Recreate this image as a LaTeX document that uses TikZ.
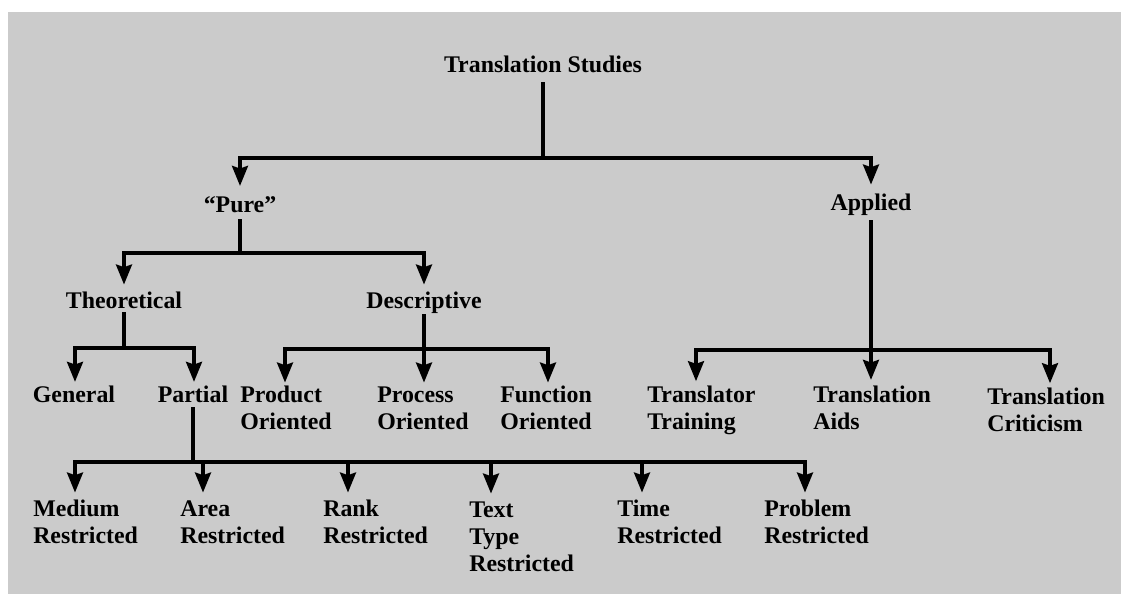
\documentclass[tikz,border=0pt]{standalone}
\usepackage{fontspec}
\setmainfont{Liberation Serif}
\usetikzlibrary{arrows.meta}
\definecolor{paper}{RGB}{203,203,203}
\newcommand{\lbl}[1]{\begin{tabular}[t]{@{}l@{}}#1\end{tabular}}
\begin{document}
\begin{tikzpicture}[x=0.75pt,y=-0.75pt,
  lab/.style={inner sep=0pt, font=\fontsize{17.9}{20.6}\selectfont\bfseries, text=black},
  topl/.style={lab, anchor=base},
  leaf/.style={lab, anchor=base west},
  conn/.style={line width=2.4pt, draw=black, line cap=rect},
  arr/.style={conn, -{Stealth[length=15pt,width=12pt,inset=2pt]}}]
\useasboundingbox (0,0) rectangle (1121,594);
\fill[white] (0,0) rectangle (1121,594);
\fill[paper] (8,12) rectangle (1121,594);

% nodes
\node[topl] (ts) at (543,72) {Translation Studies};
\node[topl] (pure) at (240,212) {``Pure''};
\node[topl] (app) at (871,210) {Applied};
\node[topl] (theo) at (124,308) {Theoretical};
\node[topl] (desc) at (424,308) {Descriptive};
\node[topl] (gen) at (74,402) {General};
\node[topl] (part) at (193,402) {Partial};
\node[leaf] (prod) at (240,402) {\lbl{Product\\Oriented}};
\node[leaf] (proc) at (377,402) {\lbl{Process\\Oriented}};
\node[leaf] (func) at (500,402) {\lbl{Function\\Oriented}};
\node[leaf] (train) at (647,402) {\lbl{Translator\\Training}};
\node[leaf] (aids) at (813,402) {\lbl{Translation\\Aids}};
\node[leaf] (crit) at (987,404) {\lbl{Translation\\Criticism}};
\node[leaf] (med) at (33,516) {\lbl{Medium\\Restricted}};
\node[leaf] (area) at (180,516) {\lbl{Area\\Restricted}};
\node[leaf] (rank) at (323,516) {\lbl{Rank\\Restricted}};
\node[leaf] (text) at (469,517) {\lbl{Text\\Type\\Restricted}};
\node[leaf] (time) at (617,516) {\lbl{Time\\Restricted}};
\node[leaf] (prob) at (764,516) {\lbl{Problem\\Restricted}};

% junction coordinates
\coordinate (tsJ) at (543,158);
\coordinate (tsL) at (240,158);
\coordinate (tsR) at (871,158);
\coordinate (puJ) at (240,253);
\coordinate (puL) at (124,253);
\coordinate (puR) at (424,253);
\coordinate (thJ) at (124,348);
\coordinate (thL) at (75,348);
\coordinate (thR) at (194,348);
\coordinate (deJ) at (424,349);
\coordinate (deL) at (285,349);
\coordinate (deR) at (548,349);
\coordinate (apL) at (696,350);
\coordinate (apR) at (1050,350);
\coordinate (paJ) at (193,462);
\coordinate (paA) at (75,462);
\coordinate (paB) at (203,462);
\coordinate (paC) at (348,462);
\coordinate (paD) at (491,462);
\coordinate (paE) at (642,462);
\coordinate (paF) at (805,462);

% Translation Studies
\draw[conn, shorten <=8.2pt] (ts.south) -- (tsJ);
\draw[conn] (tsL) -- (tsR);
\draw[arr, shorten >=7.5pt] (tsL) -- (pure.north);
\draw[arr, shorten >=6.5pt] (tsR) -- (app.north);

% Pure
\draw[conn, shorten <=6pt] (pure.south) -- (puJ);
\draw[conn] (puL) -- (puR);
\draw[arr, shorten >=5pt] (puL) -- (puL |- theo.north);
\draw[arr, shorten >=5pt] (puR) -- (puR |- desc.north);

% Theoretical
\draw[conn, shorten <=3.8pt] (theo.south) -- (thJ);
\draw[conn] (thL) -- (thR);
\draw[arr, shorten >=2.5pt] (thL) -- (thL |- gen.north);
\draw[arr, shorten >=2.5pt] (thR) -- (thR |- part.north);

% Descriptive
\draw[conn, shorten <=1.5pt] (desc.south) -- (deJ);
\draw[conn] (deL) -- (deR);
\draw[arr] (deL) -- (deL |- prod.north);
\draw[arr] (deJ) -- (deJ |- proc.north);
\draw[arr] (deR) -- (deR |- func.north);

% Applied
\draw[arr, shorten <=5pt, shorten >=2pt] (app.south) -- (app.south |- aids.north);
\draw[conn] (apL) -- (apR);
\draw[arr, shorten >=1pt] (apL) -- (apL |- train.north);
\draw[arr, shorten >=1pt] (apR) -- (apR |- crit.north);

% Partial
\draw[conn, shorten <=4.5pt] (part.south) -- (paJ);
\draw[conn] (paA) -- (paF);
\draw[arr, shorten >=3pt] (paA) -- (paA |- med.north);
\draw[arr, shorten >=3pt] (paB) -- (paB |- area.north);
\draw[arr, shorten >=3pt] (paC) -- (paC |- rank.north);
\draw[arr, shorten >=3pt] (paD) -- (paD |- text.north);
\draw[arr, shorten >=3pt] (paE) -- (paE |- time.north);
\draw[arr, shorten >=3pt] (paF) -- (paF |- prob.north);
\end{tikzpicture}
\end{document}
